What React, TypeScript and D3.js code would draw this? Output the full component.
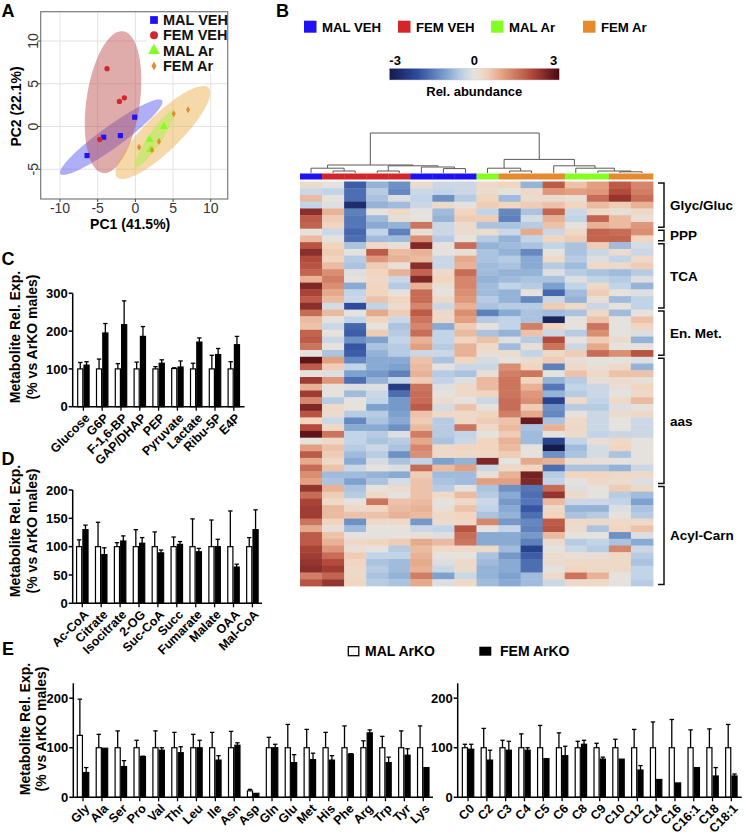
import React from "react";
import * as d3 from "d3";

const FONT = "'Liberation Sans', Arial, Helvetica, sans-serif";

// ---------------- Panel A : PCA ----------------
const pcaGroups = ["MAL VEH", "FEM VEH", "MAL Ar", "FEM Ar"];
const pcaColors = ["#1f10f5", "#d4262a", "#84ff24", "#e68a2e"];
const ellipseFills = ["#5858ee", "#bd4f4f", "#a6f046", "#eab04c"];
const malVehPC1 = [-6.41, -4.2, -1.99, -0.09];
const malVehPC2 = [-3.4, -1.25, -1.06, 1.09];
const femVehPC1 = [-3.76, -2.12, -1.46, -4.73];
const femVehPC2 = [6.76, 2.93, 3.36, -1.52];
const malArPC1 = [3.76, 1.86, 1.99];
const malArPC2 = [0, -1.52, -2.7];
const femArPC1 = [5.09, 6.99, 3.14, 0.49, 2.21];
const femArPC2 = [1.49, 1.95, -1.76, -2.42, -2.74];
// confidence ellipses (data units): centre, major half-axis vector, minor half-axis vector
const ellipseCentres = [[-3.2, -1.25], [-2.96, 2.85], [3.65, -0.7], [2.54, -1.45]];
const ellipseMajor = [[6.75, 4.3], [1.3, 8.3], [6.07, 5.24], [2.54, 3.32]];
const ellipseMinor = [[0.85, -1.03], [3.52, -0.36], [1.66, -1.5], [0.71, -0.43]];
const ellipseGroup = [0, 1, 3, 2];
const pcaXTicks = [-10, -5, 0, 5, 10];
const pcaYTicks = [-5, 0, 5, 10];

// ---------------- Panel B : heatmap ----------------
const sampleGroup = [0, 1, 1, 1, 1, 0, 0, 0, 2, 3, 3, 3, 2, 2, 3, 3];
const glycRows = [
  [0.2, 0, -1.8, -0.8, -1.2, 0.2, -0.3, -0.3, 0.3, 0.4, -0.8, 1.8, 0.6, 1.0, 1.8, 1.3],
  [-0.3, -0.4, -1.6, -0.5, -1.3, -0.3, -0.4, -0.3, 0.2, 0, 0.3, 1.1, 1.0, 1.1, 2.0, 1.4],
  [0.7, 0, -1.6, -0.6, -0.1, -0.4, -1.2, -0.5, 0.4, -0.7, 0.2, 0.2, 0.1, 1.6, 2.3, 1.6],
  [-0.4, -0.1, -2.6, -0.8, -0.7, -0.3, 0.3, 0, 0.5, 0.4, 0.5, 0.6, 0.4, 0.7, 0.5, 0.8],
  [2.4, 0.8, -1.4, 0, 0.3, 0, -0.7, 0.4, -0.4, -1.3, -0.6, 1.7, -0.3, 0.3, 0.1, 0.3],
  [1.8, 0.5, -1.5, -0.7, 0.1, 0, -0.8, 0.5, 0.5, -1.4, -0.2, 0.8, -0.4, 1.7, 0.7, 0.1],
  [1.7, 0.4, -1.5, -0.9, -0.8, 1.5, -0.3, 0.2, -0.6, -0.6, -0.5, 0.6, 0, 0.8, 0.7, 1.1],
];
const pppRows = [
  [0, -0.3, -1.7, -0.4, -1.4, 0.1, -0.3, 0.2, 0.2, -0.3, 0.9, -0.3, 0.3, 1.7, 1.6, 1.2],
  [0.7, 0, -1.6, -0.7, -0.7, 1.2, -0.5, 0, -0.5, -0.8, -0.4, 0.4, 0.5, 1.7, 1.7, 0.4],
];
const tcaRows = [
  [1.9, 0.4, -0.6, 0.3, 0.1, 2.5, 0, 1.6, -0.8, -0.7, -0.6, -0.4, -0.6, 0.5, -0.7, -0.2],
  [2.4, 0.5, 0, 1.8, 0.7, 0.8, 0, 0.1, -0.6, -0.8, -1.3, 0, -0.6, -0.3, 0.2, -0.3],
  [2.0, 0.4, -0.5, 1.1, 0.8, 0.7, -0.3, 0.9, -0.6, -0.5, -0.9, 0.3, -0.5, -0.1, -0.4, 0.3],
  [1.9, 0.7, -0.6, 0.5, 0.1, 2.4, -0.3, 0.8, -0.7, -0.6, -0.9, -0.5, -0.7, 0.3, 0.3, 0.5],
  [1.7, 1.2, -0.1, 0.4, 0.8, 1.7, 0.3, 1.6, -0.7, -0.8, -0.8, -0.1, -0.5, -0.6, -0.7, -0.5],
  [0.8, 1.4, 0, 0.3, -0.3, 2.5, 0.4, 1.3, -0.8, -0.7, -0.6, -0.6, -0.1, -0.4, -0.5, -0.1],
  [2.5, 1.2, -0.9, 0.4, -0.5, 0.8, 0.1, 1.3, -0.7, -0.4, -0.5, -1.0, -0.4, 0.3, -0.4, -0.8],
  [2.1, 0.9, -0.4, 0.4, 0, 1.6, 0, 1.2, -0.7, -0.8, 0, -1.7, -0.7, 0.5, 0, -0.1],
  [1.8, 0.7, -0.3, 0.6, 0.4, 1.6, 0.3, 1.1, -0.5, -0.8, -1.3, -0.3, -0.8, 0.1, -0.7, -0.4],
  [2.4, -0.2, -2.0, -0.4, 0.2, 1.3, -0.3, 0.8, -0.6, -0.5, -0.5, 0.5, 0.3, -0.3, 0, -0.4],
];
const enMetRows = [
  [1.6, 0.7, 0, 0.9, 0.5, 1.8, 0.3, 1.2, -1.4, -0.9, -0.6, -0.7, -0.6, 0.3, -0.7, 0],
  [0.7, 0, -0.4, 0.4, -0.3, 1.5, 0.3, 1.0, -0.5, -0.4, -0.6, -2.8, 0, 0.6, 0, 0.6],
  [0.6, -0.3, -1.7, 0, -0.6, 1.3, -0.9, 0.5, 0, -0.4, 1.4, 0.4, 0, 1.5, 0, 0.4],
  [1.7, 0, -1.8, 0.5, -0.5, 1.6, -0.4, 0.7, -0.6, -0.8, 0.6, -0.3, -0.5, 1.2, 0, -0.1],
  [1.8, -0.3, -1.2, -1.0, -0.4, 0.8, -0.4, 0.4, 0.6, -0.1, -0.5, 2.0, 0, 0.5, 0.2, -0.8],
  [1.5, 0, -1.9, -0.6, -0.5, 1.0, -0.5, 0.8, 0.3, -0.7, 0.1, 1.5, -0.3, 0.9, 0, 0],
  [0, -0.6, -1.8, -0.8, -0.5, -0.3, -0.3, 0.8, 0.1, 0.2, -0.4, 0.3, 0.5, 1.6, 1.2, 1.9],
];
const aasRows = [
  [2.8, 1.0, -1.3, -0.9, -0.9, 0.6, -0.6, 0.4, -0.2, 0, 0.2, 0.5, 0.1, 0, 0, -0.1],
  [1.8, 0.5, -0.4, -0.9, -1.0, 0.7, 0, -0.3, -0.3, 1.2, 0.4, -1.4, 0.3, 0.1, 0.3, -0.8],
  [0, -0.1, -1.0, -1.1, -1.4, 0.8, -0.5, -0.6, 0.1, 1.4, 1.5, 0, 0.6, 0.3, 0.6, 0.6],
  [2.2, 1.1, -1.6, -0.8, -0.4, 0.5, -0.4, -0.1, 0.7, 1.5, 0.4, -0.8, -0.5, 0.1, 0.2, 0.1],
  [0.8, 0, -0.1, -0.1, -2.3, 1.5, -0.1, 0.3, 0.7, 1.5, 0.8, -1.5, -0.4, -0.3, 0.1, 0.4],
  [2.2, 0, -0.7, -0.3, -1.6, 1.6, 0, 0.3, 0.4, 1.5, 1.1, -0.8, -0.5, -0.3, 0, 0.3],
  [1.3, -0.5, 0, -0.4, -1.1, 1.6, 0.2, 0, -0.3, 1.6, 1.2, -2.2, 0.3, -0.4, 0.3, 0.7],
  [2.5, 0.3, 0, -1.0, -1.1, 1.8, -0.2, 0.6, 0, 1.6, 0.5, -1.2, -0.5, -0.5, -0.1, 0],
  [1.9, 0.2, -0.5, -0.5, -1.0, 0.6, 0.3, 0.3, 0.4, 1.4, 0.9, -1.3, 0, -0.3, 0.2, 0.3],
  [0.4, -0.3, -1.3, -0.6, -0.9, 0.5, -0.5, 0.3, 0.5, 0.6, 2.7, -0.6, 0.3, -0.3, 0, -0.3],
  [2.0, 0.3, -0.9, -0.9, -1.2, 0.7, -0.5, 1.5, 0.3, 0.7, -0.6, 0.8, 0.3, -0.3, 0, -0.3],
  [2.8, 1.5, -0.4, -0.5, -0.1, 1.4, -0.5, -0.4, 0, 0.5, -0.7, 0, 0.2, -0.4, -0.3, -0.3],
  [0, 0.3, -0.4, -0.6, -0.5, 0.9, -0.6, -0.3, 0.4, 0.8, -0.7, -2.2, -0.4, 0.1, 0.3, 0],
  [1.0, 0.6, -0.5, -0.3, -0.6, 1.3, 0.3, 0.4, 0.4, 0.7, 0, -3.0, -0.7, -0.2, 0.4, 0],
  [1.8, 0.5, -0.7, -0.5, -1.2, 1.2, 0.3, 0.3, 0.3, 0.5, 0, -1.2, -0.6, -0.2, -0.6, 0],
  [0.9, 0.3, -0.9, -0.2, -0.6, -0.4, -1.0, -0.8, 2.5, 0, 0.9, 0.8, 0.1, 0.1, 0, 0],
  [1.6, 0.6, -0.3, 0, -0.1, 1.6, 0.7, 1.0, -0.3, 0.3, 0.4, -1.6, -0.6, -0.6, -0.8, -0.3],
  [1.2, -0.7, -0.7, -0.8, -0.9, 0.5, -0.7, -0.7, 0.1, 0.8, 2.6, -0.5, 0.4, 0.4, 0.3, 0.3],
  [1.0, -0.6, -1.0, -0.6, -0.2, 0.6, -0.6, -0.7, 1.0, 1.0, 2.5, -0.4, 0, 0.3, 0.2, -0.1],
];
const acylRows = [
  [2.3, 0.8, -0.6, 0, 0.2, 0.6, -0.5, 0, -0.6, -1.2, -1.5, 1.6, -0.1, 0, 0.5, 0.3],
  [1.6, 0.5, -0.5, 0.3, 0, 0.6, 0.3, 0.7, -0.5, -0.9, -1.6, 2.3, 0.3, 0, -0.5, -0.7],
  [2.1, 0.3, 0, 1.5, 0.6, 0.7, 0, 0.3, -0.3, -1.1, -1.5, 0.7, -0.3, -0.3, -0.4, -1.0],
  [2.2, 0.7, 0.3, 0.4, 0.7, 0.8, 0.1, 0.6, -0.4, -0.9, -1.9, 0.3, -0.8, -0.8, -0.1, -0.6],
  [2.2, 0.7, 0.6, 0.6, 0.8, 0.7, 0.3, 0.4, -0.6, -0.8, -1.6, 0.4, -0.6, -0.5, 0, -0.5],
  [1.5, 0.4, -1.2, 0.3, 0.3, -1.1, 0.2, 0.3, 1.3, -1.1, -1.3, 1.8, 0.3, 0.3, 0.3, 0.3],
  [0.9, 0.1, -0.7, 0, 0, -0.3, -0.4, 1.9, 0, -0.4, -1.4, 1.9, 0.2, -0.6, 0.4, 0.6],
  [1.8, 0.6, 0, 0, 0, 0.1, -0.1, 1.6, -0.9, -0.9, -1.1, 0.7, 0, 0, -1.2, -0.1],
  [1.8, 0.8, 0.3, 0.4, 0.5, 0.9, 0.7, 1.5, -0.9, -0.9, -1.4, 0.2, -0.5, -0.4, -0.6, -0.9],
  [2.1, 1.1, 0.1, 0, -0.5, 0.7, 0.3, 0.3, 0.3, -0.7, -2.2, 0, -0.3, -0.5, 1.3, -0.3],
  [2.2, 1.6, 0.5, -0.4, -0.4, 0.8, 0, 0, -0.6, -1.1, -1.8, 0.2, 0.1, 0.1, 0.3, -0.5],
  [2.3, 2.0, 0.4, -0.6, -0.7, 0.9, -0.1, 0.3, -0.7, -0.9, -1.6, 0.2, 0.3, 0.3, 0.3, -0.6],
  [2.4, 2.2, 0.3, -0.5, -0.7, 0.8, -0.3, 0.2, -0.8, -0.9, -1.6, 0, 0.4, 0.3, 0.3, -0.4],
  [1.4, 1.7, 0.3, -0.6, -0.8, 1.4, -1.0, -0.3, -0.8, -1.0, -0.7, 0.3, 1.5, 0.8, 0, -0.4],
  [1.9, 2.3, 0.4, -0.5, -0.6, 0.9, -0.1, 0.3, -0.7, -0.9, -0.7, -0.3, 0.3, 0.3, 0, -0.5],
];
const rowGroupLabels = ["Glyc/Gluc", "PPP", "TCA", "En. Met.", "aas", "Acyl-Carn"];
const rowGroups = [glycRows, pppRows, tcaRows, enMetRows, aasRows, acylRows];
// hierarchical clustering of the 16 samples: [left, right, height]; -(i+1) = sample i, k = merge k (1-based)
const dendroMerges = [
  [-2, -3, 0.5],
  [-4, -5, 0.5],
  [-7, -8, 1.1],
  [-10, -11, 0.5],
  [-15, -16, 0.3],
  [-1, 1, 1.2],
  [-6, 3, 1.5],
  [2, 7, 1.8],
  [6, 8, 2.0],
  [-9, 4, 1.2],
  [-14, 5, 0.5],
  [-13, 11, 1.2],
  [-12, 12, 1.8],
  [10, 13, 3.4],
  [9, 14, 10],
];
const heatStops = [-3, -2, -1, -0.4, 0, 0.4, 1, 2, 3];
const heatColors = ["#141a4c", "#2e4c9e", "#7ea2cf", "#c2d4e7", "#e5e1dd", "#f1d5bf", "#e3a081", "#b44a3b", "#4a0612"];
const colorbarLabels = [-3, 0, 3];

// ---------------- Panels C, D, E : bars ----------------
const glycCats = ["Glucose", "G6P", "F-1,6-BP", "GAP/DHAP", "PEP", "Pyruvate", "Lactate", "Ribu-5P", "E4P"];
const glycMal = [100, 100, 100, 100, 100, 101, 100, 100, 100];
const glycMalSd = [17, 26, 14, 18, 6, 2, 15, 36, 19];
const glycFem = [110, 195, 217, 186, 115, 105, 171, 138, 164];
const glycFemSd = [9, 25, 63, 26, 9, 16, 11, 16, 22];
const glycTicks = [0, 100, 200, 300];

const tcaCats = ["Ac-CoA", "Citrate", "Isocitrate", "2-OG", "Suc-CoA", "Succ", "Fumarate", "Malate", "OAA", "Mal-CoA"];
const tcaMal = [100, 100, 100, 100, 100, 100, 100, 100, 100, 100];
const tcaMalSd = [12, 43, 7, 30, 26, 17, 49, 47, 63, 16];
const tcaFem = [130, 86, 110, 106, 89, 104, 91, 100, 64, 130];
const tcaFemSd = [8, 12, 9, 10, 5, 5, 6, 13, 5, 35];
const tcaTicks = [0, 50, 100, 150, 200];

const aaCats = ["Gly", "Ala", "Ser", "Pro", "Val", "Thr", "Leu", "Ile", "Asn", "Asp", "Gln", "Glu", "Met", "His", "Phe", "Arg", "Trp", "Tyr", "Lys"];
const aaMal = [125, 100, 100, 100, 100, 100, 100, 100, 100, 13, 100, 100, 100, 100, 100, 100, 100, 100, 100];
const aaMalSd = [73, 27, 34, 15, 34, 31, 27, 31, 33, 3, 21, 47, 37, 31, 44, 14, 23, 34, 44];
const aaFem = [50, 99, 62, 82, 95, 90, 100, 75, 105, 8, 100, 70, 76, 75, 87, 130, 70, 85, 60];
const aaFemSd = [10, 0, 12, 1, 5, 12, 15, 9, 5, 0, 7, 16, 13, 9, 1, 6, 11, 13, 0];

const acCats = ["C0", "C2", "C3", "C4", "C5", "C6", "C8", "C9", "C10", "C12", "C14", "C16", "C16:1", "C18", "C18:1"];
const acMal = [100, 100, 100, 100, 100, 100, 100, 100, 100, 100, 100, 100, 100, 100, 100];
const acMalSd = [7, 39, 15, 28, 45, 30, 13, 9, 17, 37, 52, 57, 36, 38, 47];
const acFem = [97, 75, 95, 95, 78, 84, 107, 77, 77, 55, 36, 29, 60, 43, 43];
const acFemSd = [10, 20, 18, 5, 0, 19, 8, 4, 0, 9, 0, 0, 0, 17, 4];
const eTicks = [0, 100, 200];
const barSeries = ["MAL ArKO", "FEM ArKO"];

// ======================================================
function PanelA() {
  const x = d3.scaleLinear().domain([-12.56, 12.25]).range([40.7, 227.7]);
  const y = d3.scaleLinear().domain([-8.48, 13.43]).range([199, 11.7]);
  const pts = [
    [malVehPC1, malVehPC2],
    [femVehPC1, femVehPC2],
    [malArPC1, malArPC2],
    [femArPC1, femArPC2],
  ];
  const symbols = [d3.symbolSquare, d3.symbolCircle, d3.symbolTriangle, d3.symbolDiamond];
  const sizes = [26, 22, 30, 14];
  const legSizes = [60, 50, 60, 22];
  const line = d3.line();
  const ell = (i: number) => {
    const c = ellipseCentres[i], a = ellipseMajor[i], b = ellipseMinor[i];
    const p = d3.range(0, 97).map((k) => {
      const t = (k / 96) * 2 * Math.PI;
      return [x(c[0] + Math.cos(t) * a[0] + Math.sin(t) * b[0]), y(c[1] + Math.cos(t) * a[1] + Math.sin(t) * b[1])] as [number, number];
    });
    return line(p) + "Z";
  };
  const [x0, x1] = x.range();
  const [y0, y1] = y.range();
  return (
    <g>
      <rect x={x0} y={y1} width={x1 - x0} height={y0 - y1} fill="white" />
      {pcaXTicks.map((t) => (
        <line key={"gx" + t} x1={x(t)} x2={x(t)} y1={y1} y2={y0} stroke="#e3e3e3" strokeWidth={1} />
      ))}
      {pcaYTicks.map((t) => (
        <line key={"gy" + t} x1={x0} x2={x1} y1={y(t)} y2={y(t)} stroke="#e3e3e3" strokeWidth={1} />
      ))}
      {ellipseCentres.map((_, i) => (
        <path key={"e" + i} d={ell(i)} fill={ellipseFills[ellipseGroup[i]]} fillOpacity={0.48} stroke="none" />
      ))}
      {pts.map((g, gi) =>
        g[0].map((v, k) => (
          <path
            key={gi + "-" + k}
            d={d3.symbol().type(symbols[gi]).size(sizes[gi])() as string}
            transform={`translate(${x(v)},${y(g[1][k])})`}
            fill={pcaColors[gi]}
          />
        ))
      )}
      <rect x={x0} y={y1} width={x1 - x0} height={y0 - y1} fill="none" stroke="#7a7a7a" strokeWidth={1.2} />
      {/* legend */}
      <rect x={147} y={13} width={79} height={60} fill="white" />
      {pcaGroups.map((g, i) => (
        <g key={g} transform={`translate(154,${20 + i * 15.3})`}>
          <path d={d3.symbol().type(symbols[i]).size(legSizes[i])() as string} fill={pcaColors[i]} />
          <text x={9} y={5} fontSize={14.5} fontWeight="bold" fill="#111">
            {g}
          </text>
        </g>
      ))}
      {/* axes ticks */}
      {pcaXTicks.map((t) => (
        <g key={"tx" + t}>
          <line x1={x(t)} x2={x(t)} y1={y0} y2={y0 + 3} stroke="#444" />
          <text x={x(t)} y={y0 + 14} textAnchor="middle" fontSize={14} fill="#333">
            {t}
          </text>
        </g>
      ))}
      {pcaYTicks.map((t) => (
        <g key={"ty" + t}>
          <line x1={x0 - 3} x2={x0} y1={y(t)} y2={y(t)} stroke="#444" />
          <text transform={`translate(${x0 - 3},${y(t)}) rotate(-90)`} textAnchor="middle" fontSize={14} fill="#333">
            {t}
          </text>
        </g>
      ))}
      <text x={(x0 + x1) / 2 - 4} y={229} textAnchor="middle" fontSize={14} fontWeight="bold">
        PC1 (41.5%)
      </text>
      <text transform={`translate(21,${106.5}) rotate(-90)`} textAnchor="middle" fontSize={14} fontWeight="bold">
        PC2 (22.1%)
      </text>
    </g>
  );
}

function PanelB() {
  const rows = rowGroups.flat();
  const nCols = rows[0].length;
  const hx = d3.scaleBand<number>().domain(d3.range(nCols)).range([300, 653]);
  const hy = d3.scaleBand<number>().domain(d3.range(rows.length)).range([181.5, 586]);
  const color = d3.scaleLinear<string>().domain(heatStops).range(heatColors).interpolate(d3.interpolateRgb).clamp(true);
  const dh = d3.scaleLinear().domain([0, 10]).range([173, 133]);
  // dendrogram
  const nodeX: number[] = [];
  const nodeY: number[] = [];
  const getX = (id: number) => (id < 0 ? hx(-id - 1)! + hx.bandwidth() / 2 : nodeX[id - 1]);
  const getY = (id: number) => (id < 0 ? dh(0) : nodeY[id - 1]);
  const dendroPaths: string[] = [];
  dendroMerges.forEach(([l, r, h], k) => {
    const lx = getX(l), rx = getX(r), ly = getY(l), ry = getY(r), ny = dh(h);
    nodeX[k] = (lx + rx) / 2;
    nodeY[k] = ny;
    dendroPaths.push(`M${lx},${ly}V${ny}H${rx}V${ry}`);
  });
  const cb = d3.scaleLinear().domain([-3, 3]).range([389.3, 559.3]);
  const gradStops = d3.range(-3, 3.01, 0.25);
  let start = 0;
  const brackets = rowGroups.map((g, i) => {
    const s = start;
    start += g.length;
    return { label: rowGroupLabels[i], top: hy(s)!, bottom: hy(s + g.length - 1)! + hy.bandwidth() };
  });
  const legX = [304, 398, 491, 583];
  return (
    <g>
      <defs>
        <linearGradient id="cbgrad" x1="0" x2="1" y1="0" y2="0">
          {gradStops.map((v) => (
            <stop key={v} offset={(v + 3) / 6} stopColor={color(v)} />
          ))}
        </linearGradient>
      </defs>
      {pcaGroups.map((g, i) => (
        <g key={g}>
          <rect x={legX[i]} y={20.7} width={12.5} height={12} fill={pcaColors[i]} />
          <text x={legX[i] + 18} y={31.7} fontSize={13.2} fontWeight="bold">
            {g}
          </text>
        </g>
      ))}
      <rect x={cb(-3)} y={68.3} width={cb(3) - cb(-3)} height={11.7} fill="url(#cbgrad)" stroke="#ccc" strokeWidth={0.5} />
      {colorbarLabels.map((v) => (
        <text
          key={v}
          x={v === -3 ? cb(v) : v === 3 ? cb(v) - 2 : cb(v)}
          y={65}
          textAnchor={v === -3 ? "start" : v === 3 ? "end" : "middle"}
          fontSize={13}
          fontWeight="bold"
        >
          {v}
        </text>
      ))}
      <text x={cb(0)} y={95.5} textAnchor="middle" fontSize={13} fontWeight="bold">
        Rel. abundance
      </text>
      {dendroPaths.map((d, i) => (
        <path key={i} d={d} fill="none" stroke="#5a5a5a" strokeWidth={1} />
      ))}
      {sampleGroup.map((g, i) => (
        <rect key={"sg" + i} x={hx(i)} y={173.5} width={hx.bandwidth() + 0.3} height={6} fill={pcaColors[g]} />
      ))}
      {rows.map((r, ri) =>
        r.map((v, ci) => (
          <rect key={ri + "_" + ci} x={hx(ci)} y={hy(ri)} width={hx.bandwidth() + 0.4} height={hy.bandwidth() + 0.4} fill={color(v)} />
        ))
      )}
      {brackets.map((b) => (
        <g key={b.label}>
          <path d={`M658,${b.top + 1.5}H664V${b.bottom - 1.5}H658`} fill="none" stroke="#111" strokeWidth={1.5} />
          <text x={670} y={(b.top + b.bottom) / 2} dy="0.35em" fontSize={13.5} fontWeight="bold">
            {b.label}
          </text>
        </g>
      ))}
    </g>
  );
}

type BarProps = {
  cats: string[];
  mal: number[];
  malSd: number[];
  fem: number[];
  femSd: number[];
  ticks: number[];
  yMax: number;
  xr: [number, number];
  yr: [number, number];
  po: number;
};

function BarPanel({ cats, mal, malSd, fem, femSd, ticks, yMax, xr, yr, po }: BarProps) {
  const x = d3.scaleBand<string>().domain(cats).range(xr).paddingInner(0.33).paddingOuter(po);
  const sub = d3.scaleBand<string>().domain(barSeries).range([0, x.bandwidth()]);
  const y = d3.scaleLinear().domain([0, yMax]).range(yr);
  const series = [
    { name: barSeries[0], v: mal, sd: malSd, fill: "white" },
    { name: barSeries[1], v: fem, sd: femSd, fill: "black" },
  ];
  const base = y(0);
  return (
    <g>
      {series.map((s) =>
        cats.map((c, i) => {
          const bx = x(c)! + sub(s.name)!;
          const bw = sub.bandwidth();
          const cx = bx + bw / 2;
          const top = y(s.v[i] + s.sd[i]);
          return (
            <g key={s.name + c}>
              {s.sd[i] > 0.5 ? (
                <g>
                  <line x1={cx} x2={cx} y1={y(s.v[i])} y2={top} stroke="black" strokeWidth={1.3} />
                  <line x1={cx - 2.2} x2={cx + 2.2} y1={top} y2={top} stroke="black" strokeWidth={1.3} />
                </g>
              ) : null}
              <rect
                x={bx + 0.6}
                y={y(s.v[i])}
                width={bw - 1.2}
                height={base - y(s.v[i])}
                fill={s.fill}
                stroke="black"
                strokeWidth={1.2}
              />
            </g>
          );
        })
      )}
      <line x1={xr[0]} x2={xr[0]} y1={y(yMax)} y2={base} stroke="black" strokeWidth={1.5} />
      <line x1={xr[0]} x2={xr[1]} y1={base} y2={base} stroke="black" strokeWidth={1.5} />
      {ticks.map((t) => (
        <g key={t}>
          <line x1={xr[0] - 4} x2={xr[0]} y1={y(t)} y2={y(t)} stroke="black" strokeWidth={1.5} />
          <text x={xr[0] - 5} y={y(t)} dy="0.36em" textAnchor="end" fontSize={13} fontWeight="bold">
            {t}
          </text>
        </g>
      ))}
      {cats.map((c) => {
        const cx = x(c)! + x.bandwidth() / 2;
        return (
          <g key={"xl" + c}>
            <line x1={cx} x2={cx} y1={base} y2={base + 4} stroke="black" strokeWidth={1.3} />
            <text transform={`translate(${cx + 4},${base + 9}) rotate(-45)`} textAnchor="end" dy="0.35em" fontSize={12.5} fontWeight="bold">
              {c}
            </text>
          </g>
        );
      })}
    </g>
  );
}

function YTitle({ x1, x2, cy }: { x1: number; x2: number; cy: number }) {
  return (
    <g fontSize={14} fontWeight="bold">
      <text transform={`translate(${x1},${cy}) rotate(-90)`} textAnchor="middle">
        Metabolite Rel. Exp.
      </text>
      <text transform={`translate(${x2},${cy}) rotate(-90)`} textAnchor="middle">
        (% vs ArKO males)
      </text>
    </g>
  );
}

export default function App() {
  return (
    <svg
      width={744}
      height={837}
      viewBox="0 0 744 837"
      style={{ position: "absolute", left: 0, top: 0, display: "block", fontFamily: FONT }}
    >
      <rect width={744} height={837} fill="white" />
      <PanelA />
      <PanelB />
      <BarPanel cats={glycCats} mal={glycMal} malSd={glycMalSd} fem={glycFem} femSd={glycFemSd} ticks={glycTicks} yMax={300} xr={[72.7, 244.5]} yr={[406.7, 293.3]} po={0.234} />
      <BarPanel cats={tcaCats} mal={tcaMal} malSd={tcaMalSd} fem={tcaFem} femSd={tcaFemSd} ticks={tcaTicks} yMax={200} xr={[72.7, 262]} yr={[603.3, 490]} po={0.173} />
      <BarPanel cats={aaCats} mal={aaMal} malSd={aaMalSd} fem={aaFem} femSd={aaFemSd} ticks={eTicks} yMax={230} xr={[73.3, 433]} yr={[797.3, 683.3]} po={0.18} />
      <BarPanel cats={acCats} mal={acMal} malSd={acMalSd} fem={acFem} femSd={acFemSd} ticks={eTicks} yMax={230} xr={[457.7, 741.7]} yr={[797.3, 683.3]} po={0.215} />
      <YTitle x1={19.5} x2={36.5} cy={337} />
      <YTitle x1={19.5} x2={36.5} cy={531} />
      <YTitle x1={30} x2={46} cy={729} />
      {/* legend E */}
      <rect x={348.3} y={646.7} width={10.5} height={9} fill="white" stroke="black" strokeWidth={1.3} />
      <text x={365} y={656} fontSize={14} fontWeight="bold">
        {barSeries[0]}
      </text>
      <rect x={479.3} y={646.7} width={12} height={9} fill="black" />
      <text x={500} y={656} fontSize={14} fontWeight="bold">
        {barSeries[1]}
      </text>
      {/* panel letters */}
      <g fontSize={18} fontWeight="bold">
        <text x={1.5} y={16.5}>A</text>
        <text x={276} y={16.5}>B</text>
        <text x={1.5} y={265}>C</text>
        <text x={1.5} y={465}>D</text>
        <text x={2} y={655}>E</text>
      </g>
    </svg>
  );
}
